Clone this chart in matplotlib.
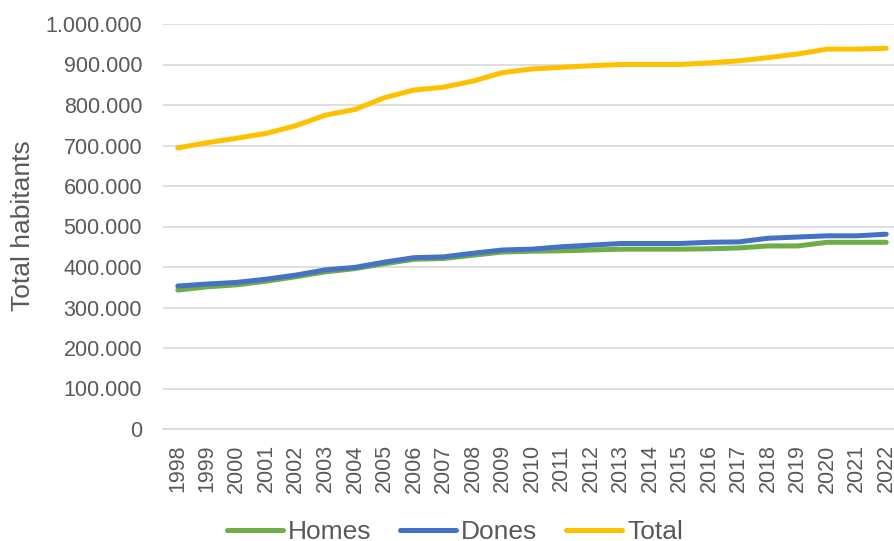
import matplotlib
matplotlib.use("Agg")
import matplotlib.pyplot as plt
from matplotlib.ticker import FuncFormatter

plt.rcParams['font.family'] = ['Liberation Sans', 'DejaVu Sans']

years = [str(y) for y in range(1998, 2023)]
homes = [343, 351, 356, 365, 376, 388, 396, 408, 419, 421, 429, 437,
         439, 440, 442, 444, 444, 444, 445, 447, 452, 452, 461, 461, 461]
dones = [353, 358, 362, 370, 380, 393, 399, 412, 423, 425, 434, 442,
         444, 450, 454, 458, 458, 458, 461, 462, 471, 474, 477, 477, 481]
total = [694, 707, 718, 730, 749, 775, 789, 818, 837, 844, 859, 880,
         889, 893, 897, 900, 900, 900, 904, 909, 917, 926, 938, 938, 940]

homes = [v * 1000 for v in homes]
dones = [v * 1000 for v in dones]
total = [v * 1000 for v in total]

fig = plt.figure(figsize=(8.94, 5.41), dpi=100)
# plot area runs a little past the right edge, as in the original screenshot
ax = fig.add_axes([163 / 894, 1 - 429 / 541, (901 - 163) / 894, (429 - 24) / 541])

x = range(len(years))
ax.plot(x, homes, color='#70AD47', lw=3.6, label='Homes', solid_capstyle='round')
ax.plot(x, dones, color='#4472C4', lw=3.6, label='Dones', solid_capstyle='round')
ax.plot(x, total, color='#FFC000', lw=3.6, label='Total', solid_capstyle='round')

ax.set_xlim(-0.5, len(years) - 0.5)
ax.set_ylim(0, 1000000)
ax.set_yticks(range(0, 1000001, 100000))
ax.yaxis.set_major_formatter(FuncFormatter(lambda v, p: f"{int(v):,}".replace(",", ".")))
ax.set_xticks(list(x))
ax.set_xticklabels(years, rotation=90)

ax.grid(axis='y', color='#D9D9D9', lw=1.2)
ax.set_axisbelow(True)
for s in ['top', 'right', 'left']:
    ax.spines[s].set_visible(False)
ax.spines['bottom'].set_color('#D9D9D9')
ax.spines['bottom'].set_linewidth(1.2)
ax.tick_params(axis='both', length=0, labelsize=15.5, colors='#595959')
ax.tick_params(axis='y', pad=15)
ax.tick_params(axis='x', pad=11)

fig.text(23 / 894, 1 - 226 / 541, "Total habitants", rotation=90, ha='center', va='center',
         fontsize=19, color='#595959')

fig.legend(loc='center', bbox_to_anchor=(455 / 894, 1 - 532 / 541), ncol=3, frameon=False,
           fontsize=19, handlelength=2.1, handletextpad=0.2, columnspacing=1.1,
           labelcolor='#595959', borderpad=0)

fig.savefig("out.png", dpi=100)
